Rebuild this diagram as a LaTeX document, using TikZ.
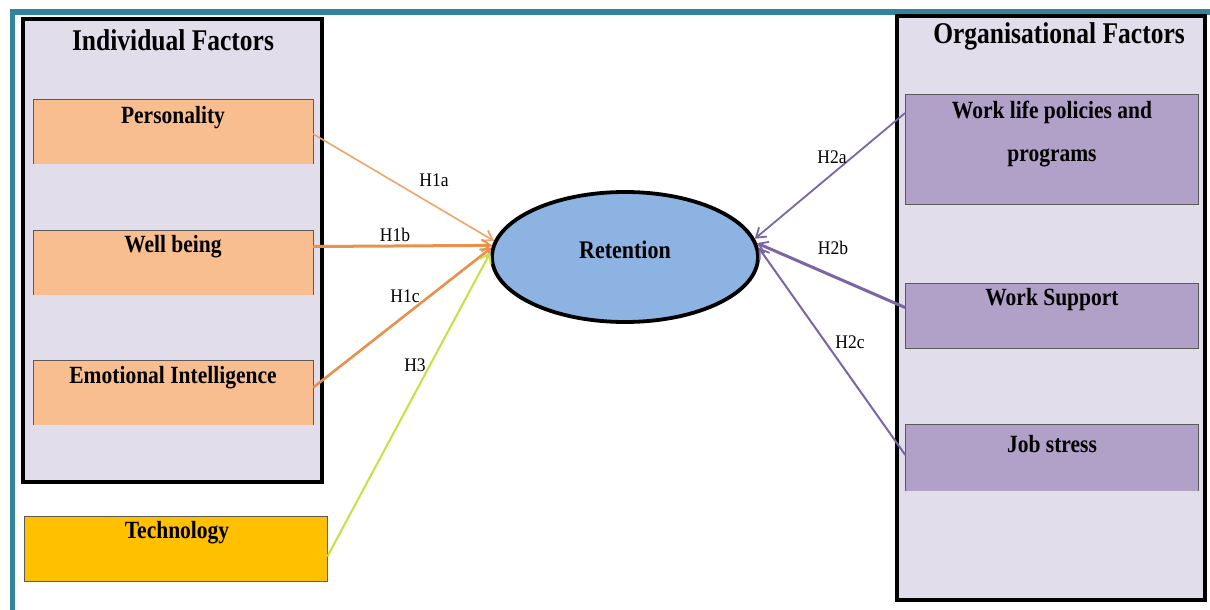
\documentclass[tikz,border=0pt]{standalone}
\usepackage{fontspec}
\setmainfont{Liberation Serif}
\usetikzlibrary{arrows.meta,shapes.geometric,calc}
\definecolor{teal}{HTML}{31849B}
\definecolor{lav}{HTML}{E1DDEA}
\definecolor{peach}{HTML}{F9BE8F}
\definecolor{gold}{HTML}{FFC000}
\definecolor{purp}{HTML}{B1A0C7}
\definecolor{ellblue}{HTML}{8DB3E2}
\definecolor{orgA}{HTML}{EDA66A}
\definecolor{orgB}{HTML}{E8914C}
\definecolor{ygreen}{HTML}{C8E040}
\definecolor{pline}{HTML}{7B65A8}
\definecolor{boxline}{HTML}{5A5A5A}
\tikzset{
  group/.style={draw=black,line width=3.5pt,fill=lav,inner sep=0pt},
  pbox/.style={fill=peach,inner sep=0pt,minimum width=279pt,minimum height=64pt},
  vbox/.style={fill=purp,draw=boxline,line width=0.8pt,inner sep=0pt,minimum width=293pt},
  tbox/.style={fill=gold,draw=boxline,line width=0.8pt,inner sep=0pt,minimum width=303pt,minimum height=65pt},
  title/.style={font=\fontsize{25.5}{28}\selectfont\bfseries,inner sep=0pt,yscale=1.18,transform shape},
  btext/.style={font=\fontsize{21.5}{24}\selectfont\bfseries,inner sep=0pt,yscale=1.15,transform shape},
  hlab/.style={font=\fontsize{17.5}{19}\selectfont,inner sep=0pt,yscale=1.1,transform shape},
  arr/.style={-{Straight Barb[length=9pt,width=12pt,line width=1.8pt]}},
}
\begin{document}
\begin{tikzpicture}[x=1pt,y=-1pt]
\useasboundingbox (0,0) rectangle (1210,610);
\fill[white] (0,0) rectangle (1210,610);
% teal frame
\draw[teal,line width=5.5pt] (12.5,640) -- (12.5,12) -- (1215,12);
% group boxes
\node[group,minimum width=299pt,minimum height=463pt] (ind) at (172.5,250.5) {};
\node[group,minimum width=308pt,minimum height=584pt] (org) at (1051,308) {};
\node[title] (indt) at (173,40) {Individual Factors};
\node[title] (orgt) at (1059,36) {Organisational Factors};
% individual boxes
\node[pbox] (pers) at (173.5,132) {};
\node[pbox] (wb) at (173.5,262.5) {};
\node[pbox] (ei) at (173.5,392.5) {};
\foreach \b in {pers,wb,ei}{
  \draw[boxline,line width=0.8pt] (\b.south west) |- (\b.north east) -- (\b.south east);
}
\node[btext] (perst) at (173,118) {Personality};
\node[btext] (wbt) at (173,247) {Well being};
\node[btext] (eit) at (173,378) {Emotional Intelligence};
\node[tbox] (tech) at (175.5,548.5) {};
\node[btext] (techt) at (177,533) {Technology};
% organisational boxes
\node[vbox,minimum height=110pt] (wl) at (1052,149) {};
\node[vbox,minimum height=65pt] (ws) at (1052,315.5) {};
\node[fill=purp,inner sep=0pt,minimum width=293pt,minimum height=66pt] (js) at (1052,458) {};
\draw[boxline,line width=0.8pt] (js.south west) |- (js.north east) -- (js.south east);
\node[btext] (wlt) at (1052,112) {Work life policies and};
\node[btext] (wlt2) at (1052,158) {programs};
\node[btext] (wst) at (1052,300) {Work Support};
\node[btext] (jst) at (1052,444) {Job stress};
% retention
\node[ellipse,draw=black,line width=3.8pt,fill=ellblue,minimum width=266pt,minimum height=130pt,inner sep=0pt] (ret) at (625,257) {};
\node[font=\fontsize{22}{24}\selectfont\bfseries,inner sep=0pt,yscale=1.15,transform shape] (rett) at (625,250) {Retention};
% arrows
\draw[arr,orgA,line width=1.6pt] ([yshift=-2pt]pers.east) -- (ret.173);
\draw[arr,orgB,line width=3pt] ([yshift=16pt]wb.east) -- (ret.175);
\draw[arr,orgB,line width=2.6pt] ([yshift=5pt]ei.east) -- (ret.176);
\draw[arr,ygreen,line width=2pt] ([yshift=-8pt]tech.east) -- (ret.178);
\draw[arr,pline,line width=1.8pt] ([yshift=36pt]wl.west) -- (ret.8);
\draw[arr,pline,line width=3pt] ([yshift=8pt]ws.west) -- (ret.6);
\draw[arr,pline,line width=2pt] ([yshift=3pt]js.west) -- (ret.4);
% labels
\node[hlab] (l1a) at (434,180) {H1a};
\node[hlab] (l1b) at (395,235) {H1b};
\node[hlab] (l1c) at (405,296) {H1c};
\node[hlab] (l3) at (415,365) {H3};
\node[hlab] (l2a) at (832,157) {H2a};
\node[hlab] (l2b) at (833,248) {H2b};
\node[hlab] (l2c) at (850,342) {H2c};
\end{tikzpicture}
\end{document}
